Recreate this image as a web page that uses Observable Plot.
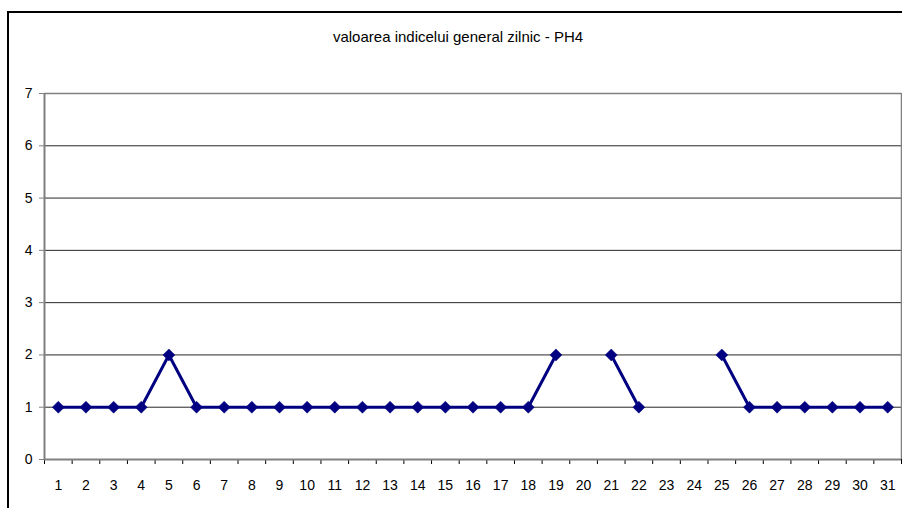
<!DOCTYPE html>
<html>
<head>
<meta charset="utf-8">
<script src="https://cdn.jsdelivr.net/npm/d3@7"></script>
<script src="https://cdn.jsdelivr.net/npm/@observablehq/plot@0.6"></script>
<style>
  html, body { margin: 0; padding: 0; background: #fff; }
  #wrap { position: relative; width: 902px; height: 508px; overflow: hidden; }
  #frame { position: absolute; left: 7px; top: 11px; width: 905px; height: 510px; border: 2px solid #000; box-sizing: border-box; }
  #chart { position: absolute; left: 0; top: 0; }
</style>
</head>
<body>
<div id="wrap"><div id="frame"></div><div id="chart"></div></div>
<script>
const title = "valoarea indicelui general zilnic - PH4";
const days = d3.range(1, 32);
const values = [1,1,1,1,2,1,1,1,1,1,1,1,1,1,1,1,1,1,2,null,2,1,null,null,2,1,1,1,1,1,1];
const yTicks = [0,1,2,3,4,5,6,7];

const data = days.map((d, i) => ({day: d, value: values[i]}));
const bounds = d3.range(0.5, 32, 1);
const font = "Liberation Sans, Arial, sans-serif";

const chart = Plot.plot({
  width: 902,
  height: 508,
  marginLeft: 44,
  marginRight: 1,
  marginTop: 93,
  marginBottom: 49,
  style: {fontFamily: font, fontSize: "14px", color: "#000", background: "transparent"},
  x: {domain: [0.5, 31.5], axis: null, label: null},
  y: {domain: [0, 7], axis: null, label: null},
  marks: [
    Plot.ruleY(yTicks.filter(d => d > 0 && d < 7), {stroke: "#000", strokeWidth: 1, strokeOpacity: 0.85}),
    Plot.ruleY([7], {stroke: "#808080", strokeWidth: 1.5}),
    Plot.ruleX([31.5], {stroke: "#808080", strokeWidth: 1.5}),
    Plot.axisY({ticks: yTicks, tickSize: 5, tickPadding: 7, stroke: "#808080", fontSize: 14, fill: "#000", label: null, tickFormat: d => String(d)}),
    Plot.axisX({ticks: bounds, tickSize: 5, tickFormat: () => "", stroke: "#000", label: null}),
    Plot.axisX({ticks: days, tickSize: 0, tickPadding: 21, fontSize: 14, fill: "#000", label: null, tickFormat: d => String(d)}),
    Plot.ruleX([0.5], {stroke: "#808080", strokeWidth: 2}),
    Plot.ruleY([0], {stroke: "#808080", strokeWidth: 2}),
    Plot.lineY(data, {x: "day", y: "value", stroke: "#000080", strokeWidth: 3}),
    Plot.dot(data.filter(d => d.value != null), {x: "day", y: "value", symbol: "diamond2", r: 5.4, fill: "#000080", stroke: "#000080", strokeWidth: 0.5}),
    Plot.text([title], {frameAnchor: "top", dx: -15, dy: -62, fontSize: 15, fill: "#000"})
  ]
});
document.getElementById("chart").appendChild(chart);
</script>
</body>
</html>
